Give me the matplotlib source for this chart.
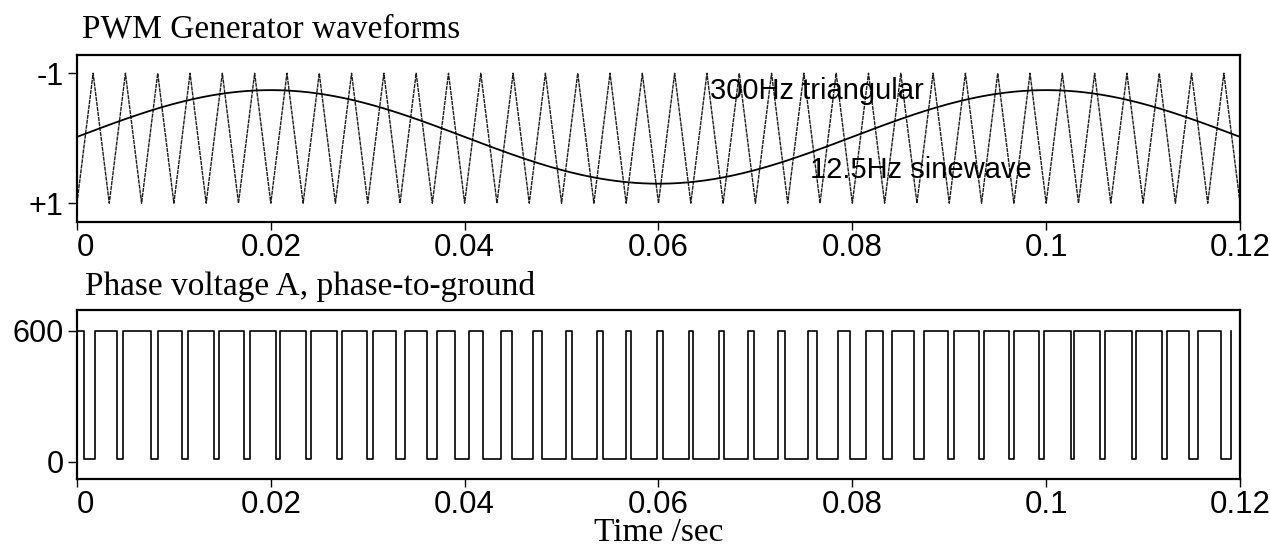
import numpy as np
import matplotlib
matplotlib.use("Agg")
import matplotlib.pyplot as plt

# --- signal parameters -------------------------------------------------
carrier_hz = 300          # triangular carrier
modulating_hz = 12.5      # sinusoidal reference
modulating_amp = 0.72
modulating_offset = -0.02

# phase voltage A switching instants (ms): falling / rising edges
fall_ms = [0.75, 4.18, 7.60, 10.86, 14.10, 17.23, 20.56, 23.66, 26.80, 29.89,
           32.91, 36.08, 39.00, 41.92, 44.85, 47.95, 51.04, 54.30, 57.16, 60.49,
           63.59, 66.79, 69.88, 73.05, 76.38, 79.71, 83.19, 86.39, 89.84, 93.07,
           96.16, 99.29, 102.53, 105.55, 108.82, 111.92, 114.76, 118.00]
rise_ms = [1.86, 4.78, 8.36, 11.48, 14.65, 17.82, 20.95, 24.11, 27.37, 30.57,
           33.84, 37.11, 40.45, 43.75, 47.08, 50.45, 53.68, 56.64, 59.81, 63.18,
           66.24, 69.26, 72.30, 75.45, 78.49, 81.38, 84.06, 87.39, 90.52, 93.61,
           96.71, 99.80, 102.87, 106.07, 109.23, 112.50, 115.69, 119.04]
trace_end_ms = 119.1
v_high = 600
v_low = 15

x_ticks = [0, 0.02, 0.04, 0.06, 0.08, 0.10, 0.12]
x_ticklabels = ["0", "0.02", "0.04", "0.06", "0.08", "0.1", "0.12"]
t_end = 0.12

SERIF = ["Liberation Serif", "DejaVu Serif"]
SANS = ["Liberation Sans", "DejaVu Sans"]

fig = plt.figure(figsize=(12.7, 5.47), dpi=100)
ax1 = fig.add_axes([0.0606, 0.5941, 0.9158, 0.3053])
ax2 = fig.add_axes([0.0606, 0.1243, 0.9158, 0.3090])

# --- carrier: straight segments between alternating +1 / -1 vertices ---
n_half = int(round(t_end * carrier_hz * 2))
t_vert = np.arange(n_half + 1) / (2 * carrier_hz)
v_vert = np.where(np.arange(n_half + 1) % 2 == 0, 1.0, -1.0)
ax1.plot(t_vert, v_vert, color="#1e1e1e", lw=1.0, ls=(0, (3.0, 0.6)))

# --- modulating sinewave ---
t_s = np.linspace(0, t_end, 1200)
m = -modulating_amp * np.sin(2 * np.pi * modulating_hz * t_s) + modulating_offset
ax1.plot(t_s, m, color="black", lw=1.3)

ax1.text(0.0653, -0.61, f"{carrier_hz}Hz triangular", family=SANS, fontsize=21,
         ha="left", va="baseline")
ax1.text(0.0756, 0.62, f"{modulating_hz}Hz sinewave", family=SANS, fontsize=21,
         ha="left", va="baseline")

ax1.set_ylim(1.29, -1.28)
ax1.set_yticks([-1, 1])
ax1.set_yticklabels(["-1", "+1"])

# --- PWM phase voltage ---
edges = [0.0]
levels = [v_high]
for f, r in zip(fall_ms, rise_ms):
    edges += [f, r]
    levels += [v_low, v_high]
edges.append(trace_end_ms)
levels.append(v_high)
ax2.plot(np.array(edges) / 1000.0, levels, drawstyle="steps-post",
         color="black", lw=1.2)
ax2.set_ylim(-78, 696)
ax2.set_yticks([0, 600])
ax2.set_yticklabels(["0", "600"])

for ax in (ax1, ax2):
    ax.set_xlim(0, t_end)
    ax.set_xticks(x_ticks)
    ax.set_xticklabels(x_ticklabels)
    ax.tick_params(axis="x", direction="out", length=6, width=1.0, pad=2,
                   labelsize=22.5)
    ax.tick_params(axis="y", direction="out", length=6.5, width=1.0, pad=3,
                   labelsize=22)
    for lab in ax.get_xticklabels() + ax.get_yticklabels():
        lab.set_family(SANS)
    ax.get_xticklabels()[0].set_horizontalalignment("left")
    for sp in ax.spines.values():
        sp.set_linewidth(1.6)

fig.text(82 / 1270, 1 - 38 / 547, "PWM Generator waveforms", family=SERIF,
         fontsize=24, ha="left", va="baseline")
fig.text(85 / 1270, 1 - 295 / 547, "Phase voltage A, phase-to-ground",
         family=SERIF, fontsize=24, ha="left", va="baseline")
fig.text(659 / 1270, 1 - 541 / 547, "Time /sec", family=SERIF, fontsize=24,
         ha="center", va="baseline")

fig.savefig("out.png", dpi=100)
